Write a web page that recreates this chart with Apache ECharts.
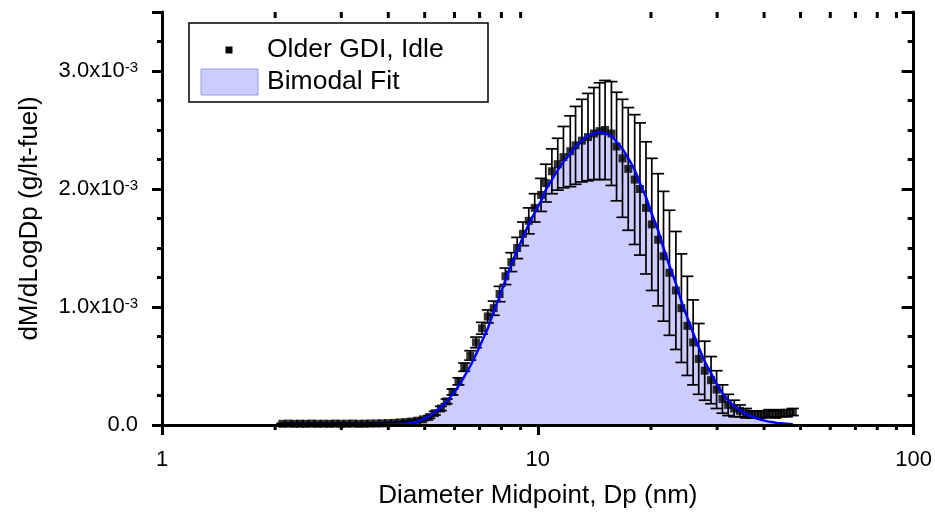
<!doctype html>
<html lang='en'>
<head>
<title>Older GDI, Idle</title>
<meta charset='utf-8'>
<style>
html, body { margin: 0; padding: 0; background: #fff; }
#chart { width: 935px; height: 520px; }
</style>
</head>
<body>
<div id="chart"></div>
<script src="https://cdn.jsdelivr.net/npm/echarts@6/dist/echarts.min.js"></script>
<script>
// Dp midpoints (nm)
const diameters = [
    2.09, 2.17, 2.25, 2.33, 2.41, 2.50, 2.59, 2.69, 2.79, 2.89,
    2.99, 3.10, 3.22, 3.34, 3.46, 3.58, 3.72, 3.85, 3.99, 4.14,
    4.29, 4.45, 4.61, 4.78, 4.95, 5.14, 5.32, 5.52, 5.72, 5.93,
    6.15, 6.37, 6.61, 6.85, 7.10, 7.36, 7.63, 7.91, 8.20, 8.50,
    8.81, 9.13, 9.46, 9.81, 10.2, 10.5, 10.9, 11.3, 11.7, 12.2,
    12.6, 13.1, 13.6, 14.1, 14.6, 15.1, 15.7, 16.2, 16.8, 17.4,
    18.1, 18.7, 19.4, 20.1, 20.9, 21.6, 22.4, 23.3, 24.1, 25.0,
    25.9, 26.8, 27.8, 28.9, 29.9, 31.0, 32.1, 33.3, 34.5, 35.8,
    37.1, 38.5, 39.9, 41.3, 42.9, 44.4, 46.0, 47.7
];
// measured dM/dLogDp, x10^-3 g/lt-fuel
const measured = [
    0.010, 0.012, 0.010, 0.011, 0.010, 0.012, 0.010, 0.011, 0.010, 0.012,
    0.010, 0.011, 0.012, 0.010, 0.011, 0.012, 0.013, 0.014, 0.016, 0.018,
    0.021, 0.025, 0.030, 0.037, 0.048, 0.068, 0.10, 0.14, 0.20, 0.28,
    0.37, 0.49, 0.59, 0.70, 0.82, 0.92, 0.99, 1.11, 1.26, 1.38,
    1.50, 1.62, 1.73, 1.84, 1.95, 2.05, 2.15, 2.21, 2.27, 2.32,
    2.37, 2.41, 2.44, 2.47, 2.49, 2.50, 2.47, 2.36, 2.26, 2.17,
    2.08, 2.00, 1.84, 1.70, 1.57, 1.43, 1.29, 1.14, 0.99, 0.84,
    0.70, 0.56, 0.46, 0.38, 0.30, 0.22, 0.17, 0.14, 0.12, 0.10,
    0.09, 0.09, 0.09, 0.10, 0.09, 0.10, 0.10, 0.11
];
// +/- error
const errors = [
    0.004, 0.004, 0.004, 0.004, 0.004, 0.004, 0.004, 0.004, 0.004, 0.004,
    0.004, 0.004, 0.004, 0.004, 0.004, 0.004, 0.004, 0.005, 0.005, 0.006,
    0.006, 0.007, 0.008, 0.009, 0.010, 0.012, 0.015, 0.018, 0.020, 0.025,
    0.030, 0.035, 0.040, 0.045, 0.050, 0.055, 0.060, 0.065, 0.070, 0.080,
    0.09, 0.10, 0.11, 0.12, 0.14, 0.16, 0.19, 0.22, 0.26, 0.30,
    0.33, 0.35, 0.37, 0.39, 0.41, 0.42, 0.44, 0.46, 0.50, 0.52,
    0.55, 0.56, 0.56, 0.56, 0.56, 0.55, 0.53, 0.50, 0.46, 0.42,
    0.36, 0.30, 0.25, 0.20, 0.16, 0.12, 0.09, 0.07, 0.05, 0.04,
    0.03, 0.03, 0.03, 0.03, 0.03, 0.03, 0.03, 0.03
];
// bimodal fit
const fitValues = [
    0, 0, 0, 0, 0, 0, 0, 0, 0, 0,
    0, 0, 0, 0, 0, 0.001, 0.001, 0.002, 0.003, 0.004,
    0.006, 0.012, 0.020, 0.032, 0.050, 0.075, 0.11, 0.15, 0.20, 0.26,
    0.33, 0.41, 0.50, 0.60, 0.71, 0.82, 0.96, 1.09, 1.23, 1.36,
    1.48, 1.59, 1.70, 1.80, 1.90, 1.99, 2.08, 2.16, 2.23, 2.30,
    2.36, 2.41, 2.45, 2.47, 2.48, 2.47, 2.45, 2.40, 2.34, 2.26,
    2.16, 2.05, 1.93, 1.79, 1.65, 1.50, 1.35, 1.20, 1.05, 0.91,
    0.78, 0.66, 0.54, 0.44, 0.35, 0.27, 0.21, 0.16, 0.125, 0.095,
    0.072, 0.053, 0.039, 0.028, 0.020, 0.014, 0.010, 0.007
];
const minorTicksX = [2, 3, 4, 5, 6, 7, 8, 9, 20, 30, 40, 50, 60, 70, 80, 90];

const FONT = "'Liberation Sans', Arial, sans-serif";

const pts = diameters.map((d, i) => [d, measured[i]]);
const bars = diameters.map((d, i) => [d, measured[i] - errors[i], measured[i] + errors[i]]);
const fit = diameters.map((d, i) => [d, fitValues[i]]);

function renderErr(params, api) {
    const x = api.value(0);
    const lo = api.coord([x, api.value(1)]);
    const hi = api.coord([x, api.value(2)]);
    const w = 6;
    const st = { stroke: '#000', lineWidth: 1.7, fill: null };
    return {
        type: 'group',
        children: [
            { type: 'line', shape: { x1: lo[0], y1: lo[1], x2: hi[0], y2: hi[1] }, style: st },
            { type: 'line', shape: { x1: lo[0] - w, y1: lo[1], x2: lo[0] + w, y2: lo[1] }, style: st },
            { type: 'line', shape: { x1: hi[0] - w, y1: hi[1], x2: hi[0] + w, y2: hi[1] }, style: st }
        ]
    };
}

// log minor ticks on bottom (outside) and top (inside)
function renderMinor(params, api) {
    const p = api.coord([api.value(0), 0]);
    const cs = params.coordSys;
    const st = { stroke: '#000', lineWidth: 3 };
    return {
        type: 'group',
        children: [
            { type: 'line', shape: { x1: p[0], y1: cs.y + cs.height, x2: p[0], y2: cs.y + cs.height + 5 }, style: st },
            { type: 'line', shape: { x1: p[0], y1: cs.y, x2: p[0], y2: cs.y + 6 }, style: st }
        ]
    };
}

const yFmt = function (v) {
    if (v === 0) return '{m|0.0}';
    if (v > 3.01) return '';
    return '{m|' + v.toFixed(1) + 'x10}{s|-3}';
};

const axisLine = { show: true, lineStyle: { color: '#000', width: 3 } };

const option = {
    animation: false,
    backgroundColor: '#fff',
    textStyle: { fontFamily: FONT },
    grid: { left: 162, right: 20, top: 12, bottom: 95 },
    xAxis: [{
        type: 'log', logBase: 10, min: 1, max: 100, position: 'bottom', z: 10,
        name: 'Diameter Midpoint, Dp (nm)', nameLocation: 'middle', nameGap: 58,
        nameTextStyle: { fontSize: 26, color: '#000', fontFamily: FONT },
        axisLine: axisLine,
        axisTick: { show: true, inside: false, length: 10, lineStyle: { color: '#000', width: 3 } },
        axisLabel: { fontSize: 22, color: '#000', margin: 24, fontFamily: FONT },
        splitLine: { show: false }
    }, {
        type: 'log', logBase: 10, min: 1, max: 100, position: 'top', z: 10,
        axisLine: axisLine,
        axisTick: { show: true, inside: true, length: 10, lineStyle: { color: '#000', width: 3 } },
        axisLabel: { show: false },
        splitLine: { show: false }
    }],
    yAxis: [{
        type: 'value', min: 0, max: 3.5, interval: 1, position: 'left', z: 10,
        name: 'dM/dLogDp (g/lt-fuel)', nameLocation: 'middle', nameGap: 119,
        nameTextStyle: { fontSize: 26, color: '#000', fontFamily: FONT },
        axisLine: axisLine,
        axisTick: { show: true, inside: false, length: 10, lineStyle: { color: '#000', width: 3 } },
        axisLabel: {
            color: '#000', fontSize: 22, margin: 24, formatter: yFmt,
            rich: {
                m: { fontSize: 22, color: '#000', fontFamily: FONT },
                s: { fontSize: 15, color: '#000', fontFamily: FONT, verticalAlign: 'top', lineHeight: 14 }
            }
        },
        splitLine: { show: false }
    }, {
        type: 'value', min: 0, max: 3.5, interval: 0.25, position: 'left', z: 10,
        axisLine: { show: false },
        axisTick: { show: true, inside: false, length: 5, lineStyle: { color: '#000', width: 3 } },
        axisLabel: { show: false },
        splitLine: { show: false }
    }, {
        type: 'value', min: 0, max: 3.5, interval: 1, position: 'right', z: 10,
        axisLine: axisLine,
        axisTick: { show: true, inside: true, length: 12, lineStyle: { color: '#000', width: 3 } },
        axisLabel: { show: false },
        splitLine: { show: false }
    }, {
        type: 'value', min: 0, max: 3.5, interval: 0.25, position: 'right', z: 10,
        axisLine: { show: false },
        axisTick: { show: true, inside: true, length: 6, lineStyle: { color: '#000', width: 3 } },
        axisLabel: { show: false },
        splitLine: { show: false }
    }],
    series: [{
        name: 'Bimodal Fit',
        type: 'line',
        data: fit,
        smooth: 0.3,
        showSymbol: false,
        lineStyle: { width: 0 },
        areaStyle: { color: '#ccccff', opacity: 1 },
        z: 1
    }, {
        name: 'error',
        type: 'custom',
        renderItem: renderErr,
        encode: { x: 0, y: [1, 2] },
        data: bars,
        clip: false,
        z: 2
    }, {
        name: 'Older GDI, Idle',
        type: 'scatter',
        data: pts,
        symbol: 'rect',
        symbolSize: 8,
        itemStyle: { color: '#000' },
        z: 3
    }, {
        name: 'Bimodal Fit line',
        type: 'line',
        data: fit,
        smooth: 0.3,
        showSymbol: false,
        lineStyle: { color: '#0000ff', width: 2.5 },
        z: 4
    }, {
        name: 'minor',
        type: 'custom',
        renderItem: renderMinor,
        data: minorTicksX.map(v => [v, 0]),
        clip: false,
        silent: true,
        z: 11
    }],
    graphic: [{
        type: 'group', z: 100,
        children: [
            { type: 'rect', shape: { x: 189, y: 23, width: 299, height: 79 }, style: { fill: '#fff', stroke: '#000', lineWidth: 1.5 } },
            { type: 'rect', shape: { x: 225.5, y: 46.5, width: 7, height: 7 }, style: { fill: '#000' } },
            { type: 'text', x: 267, y: 50, style: { text: 'Older GDI, Idle', font: '26.5px ' + FONT, fill: '#000', verticalAlign: 'middle' } },
            { type: 'rect', shape: { x: 201, y: 69, width: 57, height: 26 }, style: { fill: '#ccccff', stroke: '#9999dd', lineWidth: 1 } },
            { type: 'text', x: 267, y: 82, style: { text: 'Bimodal Fit', font: '26.5px ' + FONT, fill: '#000', verticalAlign: 'middle' } }
        ]
    }, {
        type: 'group', z: 100,
        children: [
            { type: 'rect', shape: { x: 515, y: 373, width: 148, height: 42 }, style: { fill: '#fff' } },
            { type: 'text', x: 589, y: 395, style: { text: 'EF~1mg/lt', font: '26px ' + FONT, fill: '#000', align: 'center', verticalAlign: 'middle' } }
        ]
    }]
};

const chart = echarts.init(document.getElementById('chart'));
chart.setOption(option);
</script>
</body>
</html>
